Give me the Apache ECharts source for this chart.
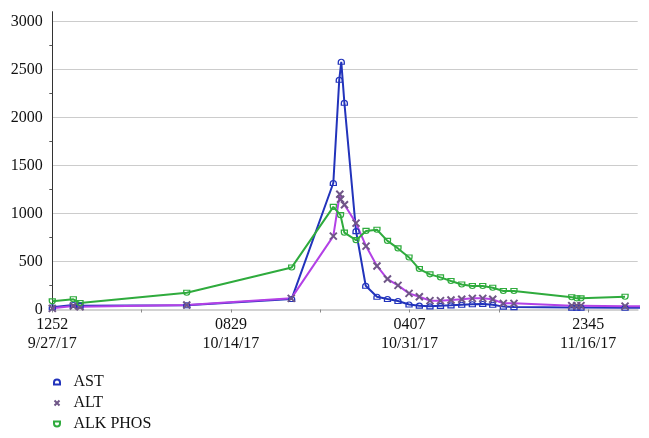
<!DOCTYPE html>
<html>
<head>
<meta charset="utf-8">
<script src="https://cdn.jsdelivr.net/npm/echarts@6/dist/echarts.min.js"></script>
<style>
html,body{margin:0;padding:0;background:#fff;}
#chart{width:649px;height:438px;}
</style>
</head>
<body>
<div id="chart"></div>
<script>
// x values: days after 9/27/17 12:52
const tickDays = [0, 8.409, 16.818, 25.227, 33.636, 42.045, 50.454];
const labelDays = [0, 16.818, 33.636, 50.454];
const labelTexts = ["1252\n9/27/17", "0829\n10/14/17", "0407\n10/31/17", "2345\n11/16/17"];

const astDays = [0, 1.98, 2.61, 12.66, 22.54, 26.46, 27.02, 27.21, 27.50, 28.60, 29.51, 30.57, 31.56, 32.55, 33.59, 34.56, 35.56, 36.55, 37.54, 38.55, 39.55, 40.53, 41.47, 42.47, 43.47, 48.91, 49.38, 49.78, 53.93, 57.0];
const astVals = [23, 47, 40, 45, 110, 1317, 2392, 2579, 2153, 816, 247, 133, 109, 88, 52, 40, 33, 38, 43, 50, 55, 57, 50, 30, 25, 20, 20, 20, 18, 18];

const altDays = [0, 1.98, 2.61, 12.66, 22.50, 26.46, 27.07, 27.14, 27.51, 28.60, 29.54, 30.57, 31.56, 32.55, 33.59, 34.56, 35.56, 36.55, 37.54, 38.55, 39.55, 40.53, 41.47, 42.47, 43.47, 48.91, 49.38, 49.78, 53.93, 57.0];
const altVals = [12, 36, 29, 47, 116, 764, 1200, 1148, 1090, 899, 660, 453, 317, 251, 168, 133, 92, 92, 99, 106, 116, 116, 106, 64, 64, 40, 40, 40, 35, 30];

const alkDays = [0, 1.98, 2.61, 12.66, 22.54, 26.46, 27.14, 27.50, 28.60, 29.54, 30.57, 31.56, 32.55, 33.59, 34.56, 35.56, 36.55, 37.54, 38.55, 39.55, 40.53, 41.47, 42.47, 43.47, 48.91, 49.38, 49.78, 53.93];
const alkVals = [85, 106, 67, 175, 438, 1068, 982, 800, 722, 818, 830, 714, 636, 542, 421, 366, 334, 296, 261, 244, 244, 227, 192, 192, 127, 116, 116, 133];

const seriesNames = ["AST", "ALT", "ALK PHOS"];

const FONT = '"Liberation Serif", "DejaVu Serif", serif';
const DOME = 'path://M0,5 L0,3 A3,3 0 0 1 6,3 L6,5 Z';
const BOWL = 'path://M0,0 L0,2 A3,3 0 0 0 6,2 L6,0 Z';
const CROSS = 'path://M0,0 L10,10 M10,0 L0,10';

const C_AST = '#2233bb', C_ALT = '#b341e6', C_ALTM = '#6f5687', C_ALK = '#2fab3d';

function zip(xs, ys) { return xs.map((x, i) => [x, ys[i]]); }

const chart = echarts.init(document.getElementById('chart'), null, {renderer: 'canvas'});
chart.setOption({
  animation: false,
  backgroundColor: '#ffffff',
  textStyle: {fontFamily: FONT},
  grid: {left: 52.3, right: 11.3, top: 11.7, bottom: 128.5, containLabel: false},
  xAxis: {
    type: 'value', min: 0, max: 55.12,
    axisLine: {show: true, onZero: false, lineStyle: {color: '#d2d2d2', width: 2}},
    axisTick: {show: true, customValues: tickDays, length: 3, lineStyle: {color: '#8a8a8a', width: 1}},
    axisLabel: {
      customValues: labelDays, margin: 6, fontSize: 16, lineHeight: 19, color: '#111', fontFamily: FONT,
      formatter: function (v) {
        for (let i = 0; i < labelDays.length; i++) if (Math.abs(labelDays[i] - v) < 0.01) return labelTexts[i];
        return '';
      }
    },
    splitLine: {show: false}
  },
  yAxis: {
    type: 'value', min: 0, max: 3100, interval: 500,
    axisLine: {show: true, lineStyle: {color: '#333', width: 1}},
    axisTick: {show: false},
    minorTick: {show: true, splitNumber: 2, length: 3, lineStyle: {color: '#555', width: 1}},
    axisLabel: {showMaxLabel: false, margin: 9.5, fontSize: 16, color: '#111', fontFamily: FONT,
      formatter: function (v) { return String(v); }},
    splitLine: {show: true, showMaxLine: false, lineStyle: {color: '#cccccc', width: 1}}
  },
  legend: {
    orient: 'vertical', left: 53, top: 374, padding: 0, itemGap: 5, itemWidth: 23, itemHeight: 5,
    textStyle: {fontSize: 16, lineHeight: 16, color: '#111', fontFamily: FONT},
    data: [
      {name: seriesNames[0], icon: DOME, itemStyle: {color: 'rgba(0,0,0,0)', borderColor: C_AST, borderWidth: 2}},
      {name: seriesNames[1], icon: CROSS, itemStyle: {color: 'rgba(0,0,0,0)', borderColor: C_ALTM, borderWidth: 2}},
      {name: seriesNames[2], icon: BOWL, itemStyle: {color: 'rgba(0,0,0,0)', borderColor: C_ALK, borderWidth: 2}}
    ]
  },
  series: [
    {
      name: seriesNames[0], type: 'line', data: zip(astDays, astVals), clip: true,
      symbol: DOME, symbolSize: [6, 5], showAllSymbol: true,
      lineStyle: {color: C_AST, width: 2},
      itemStyle: {color: 'rgba(255,255,255,0)', borderColor: C_AST, borderWidth: 1.2}
    },
    {
      name: seriesNames[1], type: 'line', data: zip(altDays, altVals), clip: true,
      symbol: CROSS, symbolSize: 7, showAllSymbol: true,
      lineStyle: {color: C_ALT, width: 2},
      itemStyle: {color: 'rgba(255,255,255,0)', borderColor: C_ALTM, borderWidth: 2}
    },
    {
      name: seriesNames[2], type: 'line', data: zip(alkDays, alkVals), clip: true,
      symbol: BOWL, symbolSize: [6, 5], showAllSymbol: true,
      lineStyle: {color: C_ALK, width: 2},
      itemStyle: {color: 'rgba(255,255,255,0)', borderColor: C_ALK, borderWidth: 1.2}
    }
  ]
});
</script>
</body>
</html>
